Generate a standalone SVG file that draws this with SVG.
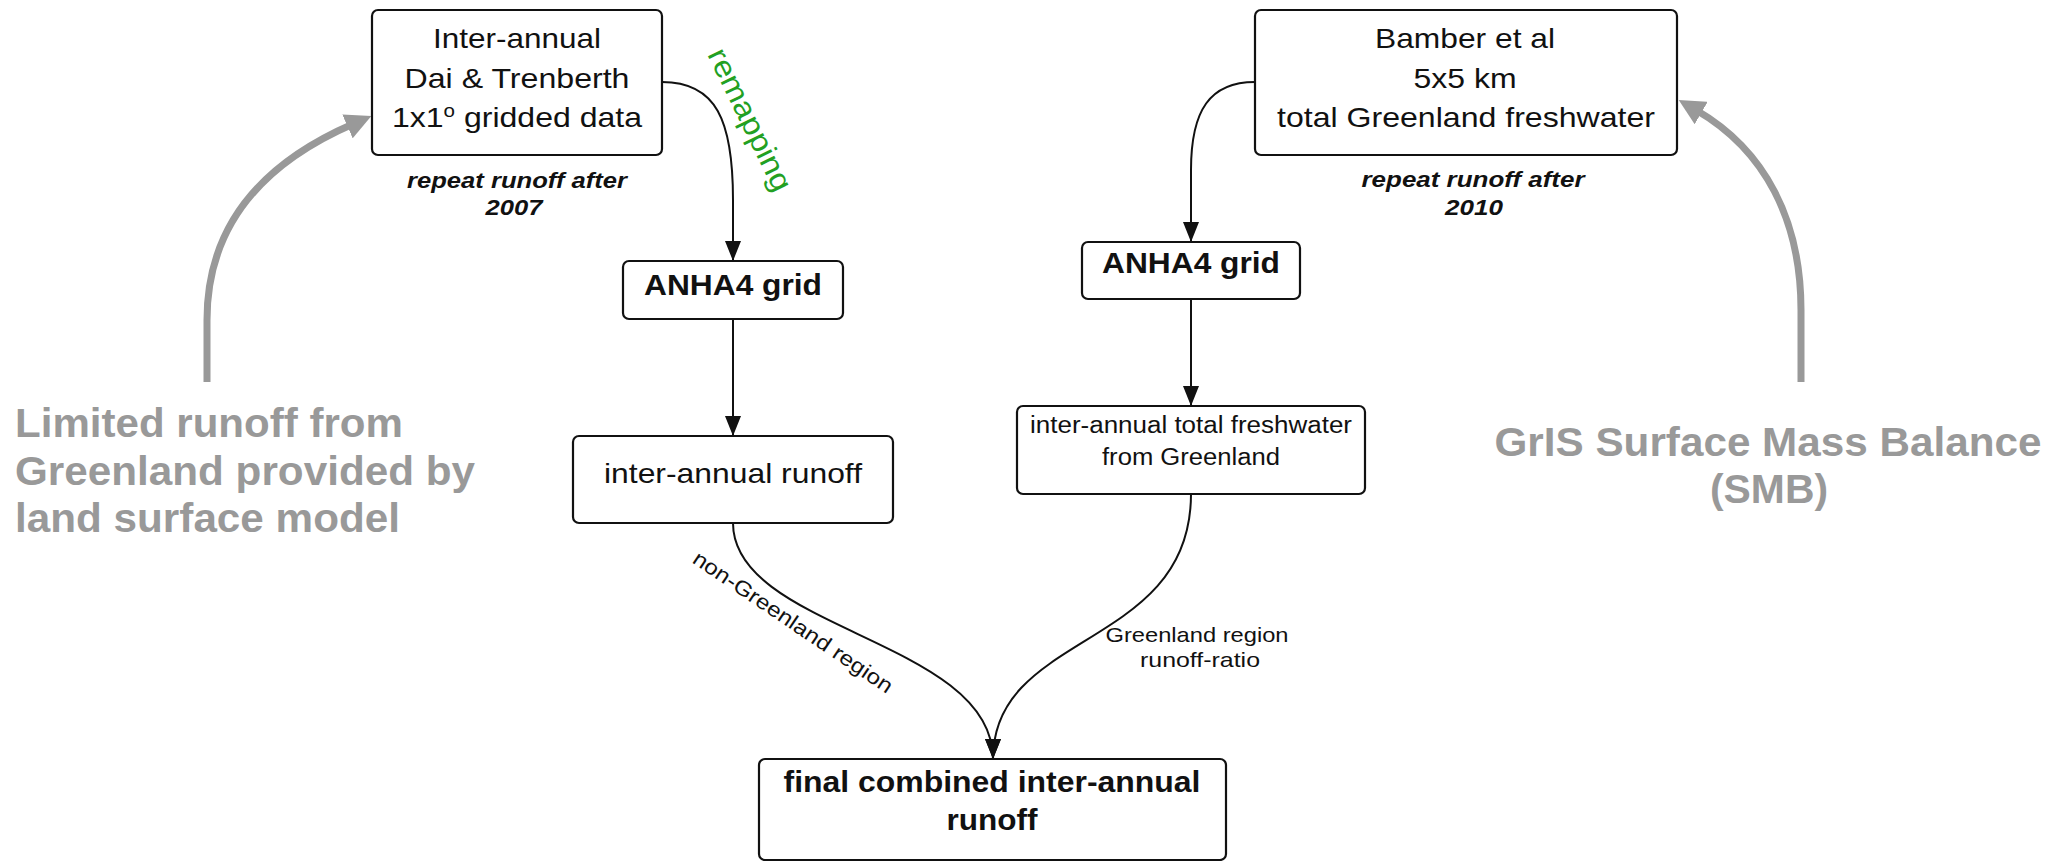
<svg xmlns="http://www.w3.org/2000/svg" width="2052" height="861" viewBox="0 0 2052 861">
<defs>
<style>
.box{fill:#fff;stroke:#111;stroke-width:2.2}
.t{font-family:"Liberation Sans",Arial,sans-serif;fill:#111;text-anchor:middle}
.r28{font-size:28px}
.b29{font-size:29px;font-weight:bold}
.it{font-size:22px;font-weight:bold;font-style:italic}
.s23{font-size:23px}
.s21{font-size:21px}
.conn{fill:none;stroke:#111;stroke-width:2}
.gray{fill:none;stroke:#999;stroke-width:7}
.note{font-family:"Liberation Sans",Arial,sans-serif;font-weight:bold;fill:#999;font-size:40px}
.green{font-family:"Liberation Sans",Arial,sans-serif;fill:#22a022;font-size:30px;text-anchor:middle}
</style>
<marker id="ah" markerUnits="userSpaceOnUse" markerWidth="20" markerHeight="16" refX="20" refY="8" orient="auto"><path d="M0,0 L20,8 L0,16 z" fill="#111"/></marker>
<marker id="gh" markerUnits="userSpaceOnUse" markerWidth="28" markerHeight="26" refX="6" refY="13" orient="auto"><path d="M0,0 L26,13 L0,26 z" fill="#999"/></marker>
</defs>
<rect width="2052" height="861" fill="#fff"/>

<g id="connectors">
<path class="conn" d="M662,82 C716,82 733,120 733,200 L733,261" marker-end="url(#ah)"/>
<path class="conn" d="M733,319 L733,436" marker-end="url(#ah)"/>
<path class="conn" d="M1255,82 C1210,82 1191,110 1191,170 L1191,242" marker-end="url(#ah)"/>
<path class="conn" d="M1191,299 L1191,406" marker-end="url(#ah)"/>
<path class="conn" d="M733,523 C733,630 993,640 993,759" marker-end="url(#ah)"/>
<path class="conn" d="M1191,494 C1191,650 993,630 993,759" marker-end="url(#ah)"/>
<text class="green" transform="translate(741,124) rotate(64)" textLength="155" lengthAdjust="spacingAndGlyphs">remapping</text>
<text class="t s21" transform="translate(789,628) rotate(34)" textLength="236" lengthAdjust="spacingAndGlyphs">non-Greenland region</text>
<text class="t s21" x="1197" y="642" textLength="183" lengthAdjust="spacingAndGlyphs">Greenland region</text>
<text class="t s21" x="1200" y="667" textLength="120" lengthAdjust="spacingAndGlyphs">runoff-ratio</text>
<path class="gray" d="M207,382 L207,320 C207,220 270,160 353,124" marker-end="url(#gh)"/>
<path class="gray" d="M1801,382 L1801,310 C1801,220 1765,150 1696,110" marker-end="url(#gh)"/>
</g>

<g id="node-dai">
<rect class="box" x="372" y="10" width="290" height="145" rx="6"/>
<text class="t r28" x="517" y="48" textLength="168" lengthAdjust="spacingAndGlyphs">Inter-annual</text>
<text class="t r28" x="517" y="88" textLength="225" lengthAdjust="spacingAndGlyphs">Dai &amp; Trenberth</text>
<text class="t r28" x="517" y="127" textLength="250" lengthAdjust="spacingAndGlyphs">1x1<tspan font-size="18" dy="-10">o</tspan><tspan dy="10"> gridded data</tspan></text>
<text class="t it" x="517" y="188" textLength="220" lengthAdjust="spacingAndGlyphs">repeat runoff after</text>
<text class="t it" x="514" y="215" textLength="57" lengthAdjust="spacingAndGlyphs">2007</text>
</g>

<g id="node-bamber">
<rect class="box" x="1255" y="10" width="422" height="145" rx="6"/>
<text class="t r28" x="1465" y="48" textLength="180" lengthAdjust="spacingAndGlyphs">Bamber et al</text>
<text class="t r28" x="1465" y="88" textLength="103" lengthAdjust="spacingAndGlyphs">5x5 km</text>
<text class="t r28" x="1466" y="127" textLength="378" lengthAdjust="spacingAndGlyphs">total Greenland freshwater</text>
<text class="t it" x="1473" y="187" textLength="223" lengthAdjust="spacingAndGlyphs">repeat runoff after</text>
<text class="t it" x="1474" y="215" textLength="58" lengthAdjust="spacingAndGlyphs">2010</text>
</g>

<g id="node-anha4-left">
<rect class="box" x="623" y="261" width="220" height="58" rx="6"/>
<text class="t b29" x="733" y="295" textLength="178" lengthAdjust="spacingAndGlyphs">ANHA4 grid</text>
</g>

<g id="node-anha4-right">
<rect class="box" x="1082" y="242" width="218" height="57" rx="6"/>
<text class="t b29" x="1191" y="273" textLength="178" lengthAdjust="spacingAndGlyphs">ANHA4 grid</text>
</g>

<g id="node-runoff">
<rect class="box" x="573" y="436" width="320" height="87" rx="6"/>
<text class="t r28" x="733" y="483" textLength="258" lengthAdjust="spacingAndGlyphs">inter-annual runoff</text>
</g>

<g id="node-freshwater">
<rect class="box" x="1017" y="406" width="348" height="88" rx="6"/>
<text class="t s23" x="1191" y="433" textLength="322" lengthAdjust="spacingAndGlyphs">inter-annual total freshwater</text>
<text class="t s23" x="1191" y="465" textLength="178" lengthAdjust="spacingAndGlyphs">from Greenland</text>
</g>

<g id="node-final">
<rect class="box" x="759" y="759" width="467" height="101" rx="6"/>
<text class="t b29" x="992" y="792" textLength="417" lengthAdjust="spacingAndGlyphs">final combined inter-annual</text>
<text class="t b29" x="992" y="830" textLength="91" lengthAdjust="spacingAndGlyphs">runoff</text>
</g>

<g id="note-left">
<text class="note" x="15" y="437" textLength="388" lengthAdjust="spacingAndGlyphs">Limited runoff from</text>
<text class="note" x="15" y="485" textLength="460" lengthAdjust="spacingAndGlyphs">Greenland provided by</text>
<text class="note" x="15" y="532" textLength="385" lengthAdjust="spacingAndGlyphs">land surface model</text>
</g>

<g id="note-right">
<text class="note" x="1768" y="456" text-anchor="middle" textLength="547" lengthAdjust="spacingAndGlyphs">GrIS Surface Mass Balance</text>
<text class="note" x="1769" y="503" text-anchor="middle" textLength="118" lengthAdjust="spacingAndGlyphs">(SMB)</text>
</g>
</svg>
